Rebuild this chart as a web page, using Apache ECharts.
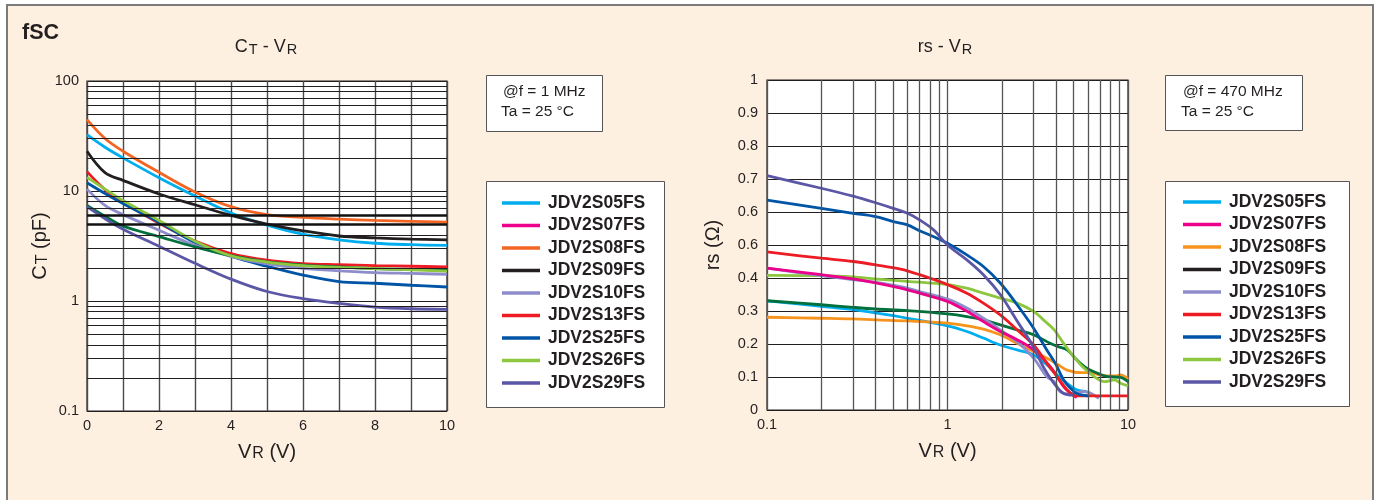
<!DOCTYPE html>
<html>
<head>
<meta charset="utf-8">
<script src="https://cdn.jsdelivr.net/npm/echarts@6/dist/echarts.min.js"></script>
<style>
html,body{margin:0;padding:0;background:#fff;}
#frame{position:absolute;left:6px;top:4px;width:1364px;height:500px;background:#fdf0e0;border-top:2px solid #7b7b7b;border-left:2px solid #7b7b7b;border-right:2px solid #7b7b7b;}
#chart{position:absolute;left:0;top:0;width:1378px;height:500px;}
</style>
</head>
<body>
<div id="frame"></div>
<div id="chart"></div>
<script>
var FONT='"Liberation Sans", Arial, Helvetica, sans-serif';
var INK='#231f20';

// legend names (same list in both charts)
var partNames=['JDV2S05FS','JDV2S07FS','JDV2S08FS','JDV2S09FS','JDV2S10FS','JDV2S13FS','JDV2S25FS','JDV2S26FS','JDV2S29FS'];
var leftLegendColors=['#00aeef','#ec008c','#f26522','#231f20','#8f8ccb','#ed1c24','#0054a6','#8dc63f','#5b57a6'];
var rightLegendColors=['#00aeef','#ec008c','#f7941d','#231f20','#8f8ccb','#ed1c24','#0054a6','#8dc63f','#5b57a6'];

// CT - VR   (x: VR in V, y: CT in pF)
var ctVolts=[0,0.5,1,2,3,4,5,6,7,8,9,10];
var ct05=[32.5,25,20,13.2,9.0,6.3,4.9,4.05,3.6,3.35,3.25,3.2];
var ct08=[44.5,30,23,14.8,9.8,7.2,6.1,5.75,5.55,5.4,5.3,5.2];
var ct09=[23,14.7,12.5,9.4,7.5,6.0,5.0,4.35,3.9,3.75,3.65,3.6];
var ct10=[10.4,7.4,6.1,4.4,3.2,2.55,2.17,1.98,1.88,1.81,1.78,1.75];
var ct13=[15,10.3,7.9,5.1,3.5,2.7,2.35,2.19,2.14,2.1,2.07,2.04];
var ct25=[11.9,9.5,7.7,5.2,3.4,2.55,2.07,1.72,1.5,1.45,1.39,1.34];
var ct26=[13.3,10.4,8.2,5.4,3.5,2.58,2.26,2.1,2.02,1.97,1.92,1.87];
var ct29=[7.2,5.6,4.5,3.15,2.2,1.58,1.22,1.05,0.95,0.88,0.85,0.84];
var ctGreen=[7.4,5.9,4.8,3.85,3.1,2.58,2.27,2.12,2.04,1.97,1.94,1.91];

// rs - VR   ([VR in V, rs in ohm])
var rs05=[[0.1,.331],[0.2,.314],[0.3,.304],[0.4,.294],[0.6,.278],[1,.255],[1.28,.238],[1.58,.218],[1.96,.197],[2.43,.182],[3,.167],[3.55,.137],[4.05,.106],[4.6,.081],[5.2,.061],[5.9,.056]];
var rs07=[[0.1,.43],[0.2,.41],[0.3,.397],[0.4,.385],[0.55,.369],[0.7,.354],[1,.329],[1.28,.299],[1.58,.268],[1.96,.238],[2.43,.213],[3,.182],[3.7,.132],[4.4,.071],[4.8,.051],[5.2,.038]];
var rs08=[[0.1,.281],[0.2,.278],[0.3,.276],[0.4,.273],[0.6,.27],[1,.263],[1.28,.255],[1.58,.245],[1.96,.228],[2.43,.202],[3,.177],[3.7,.152],[4.1,.137],[4.6,.121],[5.5,.113],[6.2,.113],[7,.106],[8.4,.103],[9.1,.106],[10,.093]];
var rs10=[[0.1,.43],[0.2,.407],[0.3,.395],[0.4,.387],[0.55,.374],[0.7,.359],[1,.336],[1.28,.309],[1.58,.278],[1.96,.243],[2.43,.207],[3,.157],[3.55,.101],[3.9,.086],[4.2,.056],[4.8,.049],[5.7,.056],[6.9,.035]];
var rs13=[[0.1,.479],[0.2,.46],[0.3,.45],[0.4,.44],[0.55,.427],[0.7,.41],[1,.38],[1.28,.354],[1.58,.324],[1.96,.288],[2.43,.243],[3,.197],[3.55,.142],[4.05,.101],[4.6,.061],[5.1,.043],[10,.043]];
var rs25=[[0.1,.636],[0.2,.611],[0.3,.596],[0.4,.586],[0.5,.571],[0.6,.561],[0.7,.543],[0.84,.525],[1,.505],[1.28,.47],[1.58,.435],[1.96,.385],[2.43,.319],[3,.248],[3.55,.182],[3.95,.142],[4.4,.091],[4.8,.066],[5.2,.05],[6,.043]];
var rs26=[[0.1,.408],[0.2,.407],[0.3,.403],[0.4,.397],[0.6,.39],[1,.38],[1.28,.369],[1.58,.354],[1.96,.339],[2.43,.324],[3,.299],[3.4,.273],[3.9,.243],[4.4,.202],[5,.162],[5.7,.127],[6.5,.101],[7.4,.086],[8.4,.091],[9.1,.081],[10,.073]];
var rs29=[[0.1,.71],[0.2,.672],[0.3,.648],[0.4,.628],[0.5,.611],[0.6,.596],[0.7,.576],[0.84,.545],[1,.5],[1.28,.455],[1.58,.41],[1.96,.35],[2.43,.27],[3,.19],[3.4,.13],[3.9,.08],[4.4,.05],[5,.045]];
var rsGreen=[[0.1,.331],[0.2,.319],[0.3,.311],[0.4,.306],[0.6,.301],[1,.291],[1.28,.283],[1.58,.273],[1.96,.258],[2.43,.243],[3,.228],[3.7,.202],[4.1,.192],[4.6,.182],[5.2,.152],[5.9,.127],[6.8,.111],[7.7,.101],[9.1,.099],[10,.086]];

// tick labels
var ctTickLabels={0.1:'0.1',1:'1',10:'10',100:'100'};
var rsTickLabels=['0','0.1','0.2','0.3','0.4','0.6','0.6','0.7','0.8','0.9','1'];

// minor grid values
var ctMinor=[0.2,0.3,0.4,0.5,0.6,0.7,0.8,0.9,2,3,4,7,8,9,20,30,40,50,60,70,80,90];
var ctHeavy=[5,6];
var rsMinor=[0.2,0.3,0.4,0.5,0.6,0.7,0.8,0.9,2,3,4,5,6,7,8,9];

function pairs(xs,ys){
    return xs.map(function(x,i){return [x,ys[i]];});
}

function lineSeries(name,color,data,side,z){
    return {
        name:name,type:'line',xAxisIndex:side,yAxisIndex:side,
        data:data,smooth:0.35,showSymbol:false,symbol:'none',z:z||3,
        lineStyle:{color:color,width:2.8},itemStyle:{color:color}
    };
}

var axisLabelStyle={fontFamily:FONT,fontSize:14.5,color:INK};
var titleRich={
    a:{fontFamily:FONT,fontSize:18,fontWeight:'normal',color:INK},
    b:{fontFamily:FONT,fontSize:14.5,fontWeight:'normal',color:INK,padding:[4,0,0,1]}
};
var nameRich={
    a:{fontFamily:FONT,fontSize:20,fontWeight:'normal',color:INK},
    b:{fontFamily:FONT,fontSize:16,fontWeight:'normal',color:INK,padding:[4,0,0,1]}
};

var series=[
    // minor grid lines (left)
    {type:'line',xAxisIndex:0,yAxisIndex:0,data:[],z:1,silent:true,
        markLine:{silent:true,symbol:'none',label:{show:false},animation:false,
            lineStyle:{color:INK,width:1,type:'solid'},
            data:ctMinor.map(function(v){return {yAxis:v};}).concat(ctHeavy.map(function(v){return {yAxis:v,lineStyle:{width:2.6,color:'#111'}};}))}},
    // minor grid lines (right)
    {type:'line',xAxisIndex:1,yAxisIndex:1,data:[],z:1,silent:true,
        markLine:{silent:true,symbol:'none',label:{show:false},animation:false,
            lineStyle:{color:'#555',width:1.3,type:'solid'},
            data:rsMinor.map(function(v){return {xAxis:v};})}},

    lineSeries('JDV2S08FS','#f26522',pairs(ctVolts,ct08),0),
    lineSeries('JDV2S05FS','#00aeef',pairs(ctVolts,ct05),0),
    lineSeries('JDV2S09FS','#231f20',pairs(ctVolts,ct09),0),
    lineSeries('JDV2S13FS','#ed1c24',pairs(ctVolts,ct13),0),
    lineSeries('JDV2S25FS','#0054a6',pairs(ctVolts,ct25),0),
    lineSeries('JDV2S10FS','#8f8ccb',pairs(ctVolts,ct10),0),
    lineSeries('dark green','#00703c',pairs(ctVolts,ctGreen),0),
    lineSeries('JDV2S26FS','#8dc63f',pairs(ctVolts,ct26),0),
    lineSeries('JDV2S29FS','#5b57a6',pairs(ctVolts,ct29),0),

    lineSeries('JDV2S05FS','#00aeef',rs05,1),
    lineSeries('JDV2S08FS','#f7941d',rs08,1),
    lineSeries('dark green','#00703c',rsGreen,1),
    lineSeries('JDV2S26FS','#8dc63f',rs26,1),
    lineSeries('JDV2S10FS','#8f8ccb',rs10,1),
    lineSeries('JDV2S07FS','#ec008c',rs07,1),
    lineSeries('JDV2S13FS','#ed1c24',rs13,1),
    lineSeries('JDV2S25FS','#0054a6',rs25,1),
    lineSeries('JDV2S29FS','#5b57a6',rs29,1)
];

function makeLegend(x,y,colors){
    return {
        show:true,orient:'vertical',left:x,top:y,padding:0,
        itemWidth:38,itemHeight:3.5,itemGap:4.5,icon:'rect',selectedMode:false,
        textStyle:{fontFamily:FONT,fontSize:17.5,fontWeight:'bold',color:INK,lineHeight:18,padding:[0,0,0,3]},
        data:partNames.map(function(n,i){return {name:n,itemStyle:{color:colors[i]}};})
    };
}

function box(x,y,w,h){
    return {type:'rect',left:x,top:y,z:1,shape:{width:w,height:h},style:{fill:'#fff',stroke:'#555',lineWidth:1}};
}
function note(x,y,txt){
    return {type:'text',left:x,top:y,z:2,style:{text:txt,fontFamily:FONT,fontSize:15.5,fill:INK}};
}

var myChart=echarts.init(document.getElementById('chart'),null,{renderer:'canvas'});
var option={
    animation:false,
    backgroundColor:'transparent',
    title:[
        {text:'fSC',left:22,top:22,padding:0,textStyle:{fontFamily:FONT,fontSize:21.5,fontWeight:'bold',color:INK}},
        {text:'{a|C}{b|T}{a| - V}{b|R}',left:266,top:38,padding:0,textAlign:'center',textStyle:{fontWeight:'normal',rich:titleRich}},
        {text:'{a|rs - V}{b|R}',left:945,top:38,padding:0,textAlign:'center',textStyle:{fontWeight:'normal',rich:titleRich}}
    ],
    legend:[makeLegend(502,194,leftLegendColors),makeLegend(1183,193,rightLegendColors)],
    grid:[
        {left:87,top:81,width:360,height:330,show:true,backgroundColor:'#fff',borderColor:INK,borderWidth:1.2,containLabel:false,outerBoundsMode:'none'},
        {left:767,top:80,width:361,height:330,show:true,backgroundColor:'#fff',borderColor:INK,borderWidth:1.2,containLabel:false,outerBoundsMode:'none'}
    ],
    xAxis:[
        {type:'value',gridIndex:0,min:0,max:10,interval:1,
            name:'{a|V}{b|R}{a| (V)}',nameLocation:'middle',nameGap:31,nameTextStyle:{rich:nameRich},
            axisLine:{show:false},axisTick:{show:false},
            axisLabel:Object.assign({margin:7,formatter:function(v){return v%2===0?String(v):'';}},axisLabelStyle),
            splitLine:{show:true,lineStyle:{color:'#4a4a4a',width:1.4}}},
        {type:'log',logBase:10,gridIndex:1,min:0.1,max:10,
            name:'{a|V}{b|R}{a| (V)}',nameLocation:'middle',nameGap:31,nameTextStyle:{rich:nameRich},
            axisLine:{show:false},axisTick:{show:false},
            axisLabel:Object.assign({margin:7},axisLabelStyle),
            splitLine:{show:true,lineStyle:{color:'#555',width:1.3}}}
    ],
    yAxis:[
        {type:'log',logBase:10,gridIndex:0,min:0.1,max:100,
            name:'{a|C}{b|T}{a| (pF)}',nameLocation:'middle',nameGap:34,nameRotate:90,nameTextStyle:{rich:nameRich},
            axisLine:{show:false},axisTick:{show:false},
            axisLabel:Object.assign({margin:8,formatter:function(v){return ctTickLabels[v]||String(v);}},axisLabelStyle),
            splitLine:{show:true,lineStyle:{color:INK,width:1}}},
        {type:'value',gridIndex:1,min:0,max:1,interval:0.1,
            name:'{a|rs (Ω)}',nameLocation:'middle',nameGap:44,nameRotate:90,nameTextStyle:{rich:nameRich},
            axisLine:{show:false},axisTick:{show:false},
            axisLabel:Object.assign({margin:9,formatter:function(v){return rsTickLabels[Math.round(v*10)];}},axisLabelStyle),
            splitLine:{show:true,lineStyle:{color:INK,width:1}}}
    ],
    graphic:[
        box(486,75,116,56),note(503,84,'@f = 1 MHz'),note(501,104,'Ta = 25 °C'),
        box(486,181,178,226),
        box(1165,75,137,55),note(1183,84,'@f = 470 MHz'),note(1181,104,'Ta = 25 °C'),
        box(1165,181,184,225)
    ],
    series:series
};
myChart.setOption(option);
</script>
</body>
</html>
